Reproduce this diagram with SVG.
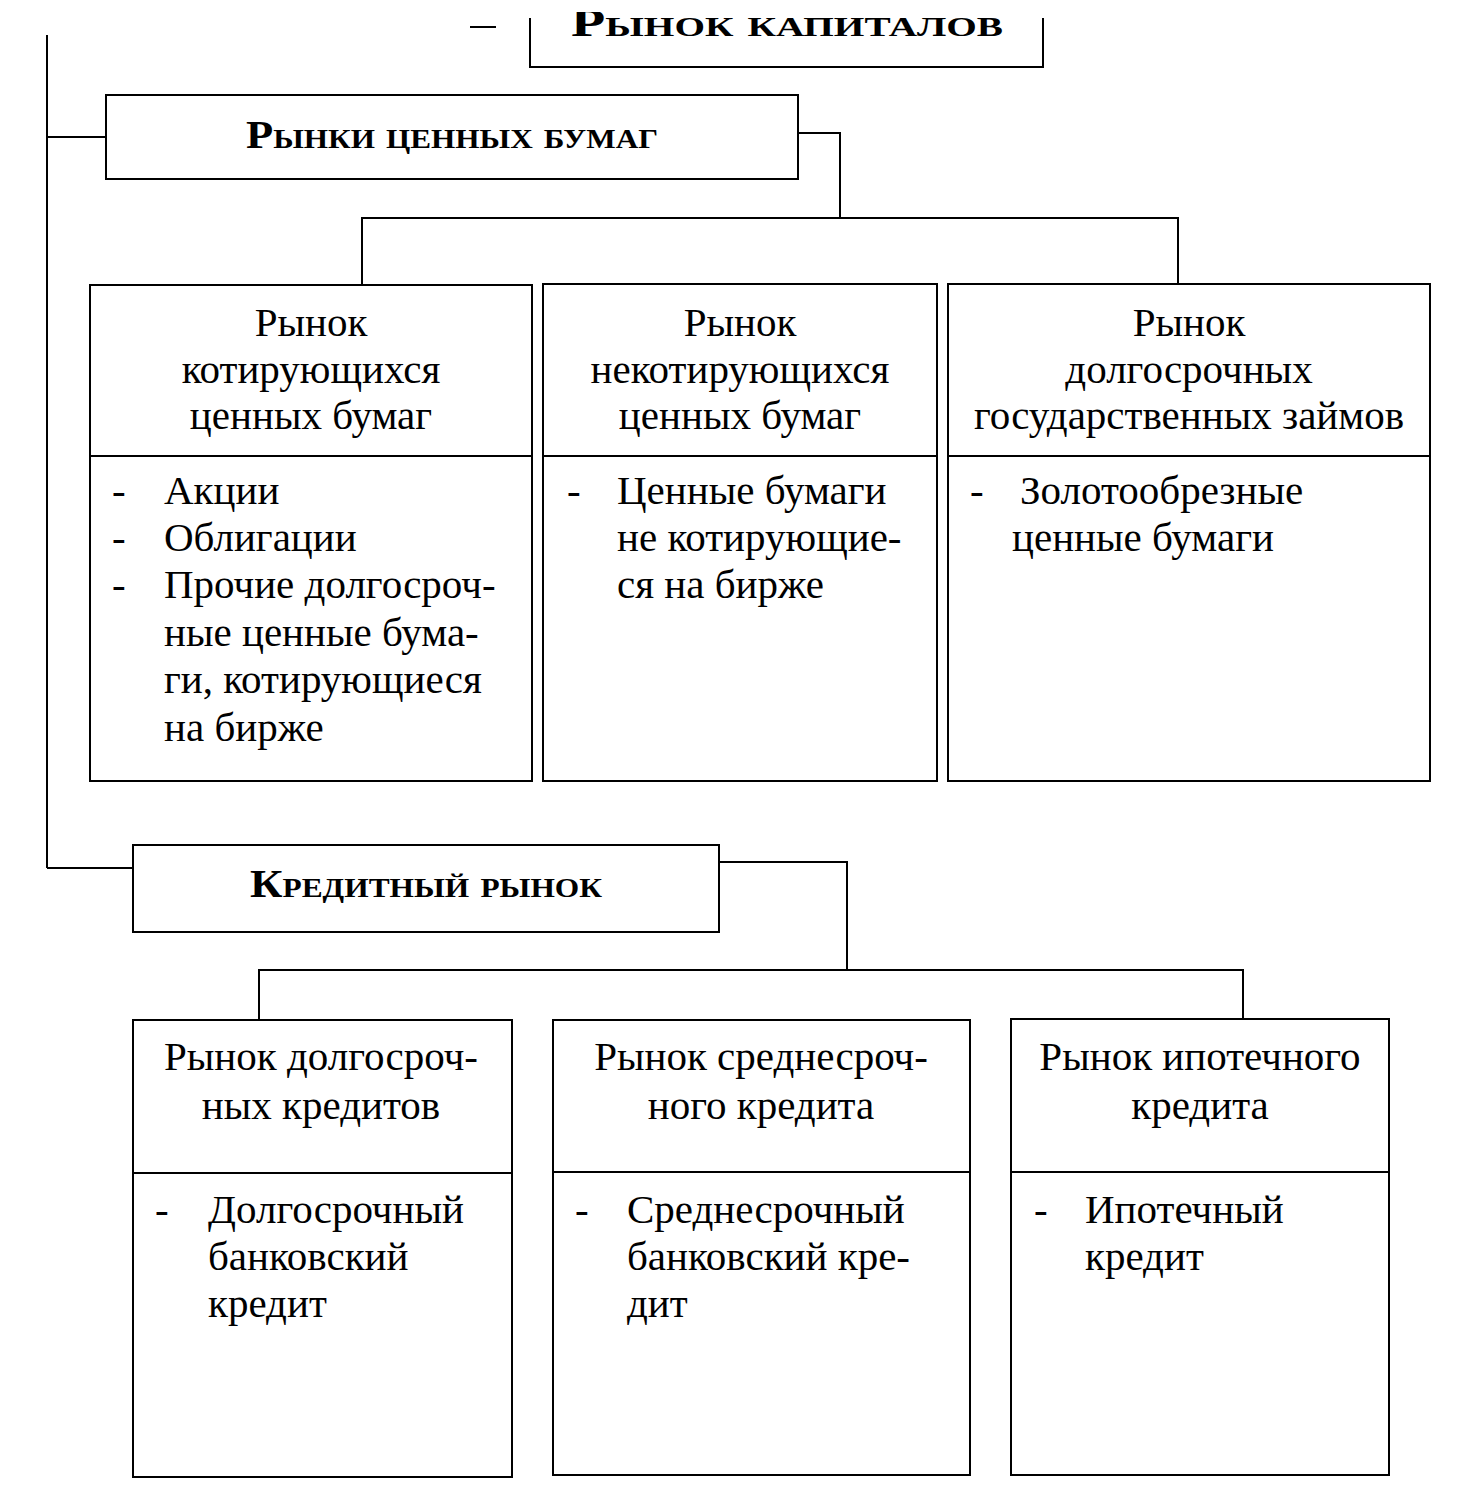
<svg xmlns="http://www.w3.org/2000/svg" width="1460" height="1512" viewBox="0 0 1460 1512">
<style>
.box{fill:none;stroke:#000;stroke-width:2}
.ln{fill:none;stroke:#000;stroke-width:2}
.t{font-family:"Liberation Serif","Times New Roman",serif;font-size:41px;fill:#000}
.c{text-anchor:middle}
.h{font-family:"Liberation Serif","Times New Roman",serif;font-weight:bold;font-variant:small-caps;font-size:40px;fill:#000;text-anchor:middle}
</style>
<rect width="1460" height="1512" fill="#fff"/>
<g id="connectors">
<path class="ln" d="M47,35 V868"/>
<path class="ln" d="M47,137 H106"/>
<path class="ln" d="M798,133 H840 V218"/>
<path class="ln" d="M362,285 V218 H1178 V284"/>
<path class="ln" d="M47,868 H133"/>
<path class="ln" d="M719,862 H847 V970"/>
<path class="ln" d="M259,1020 V970 H1243 V1019"/>
<path class="ln" d="M470,27 H496"/>
</g>
<g id="root">
<path class="box" d="M530,18 V67 H1043 V18"/>
<text class="h" x="787" y="36" font-size="52" textLength="432" lengthAdjust="spacingAndGlyphs">Рынок капиталов</text>
<rect x="0" y="0" width="1460" height="12" fill="#fff"/>
</g>
<g id="securities">
<rect class="box" x="106" y="95" width="692" height="84"/>
<text class="h" x="452" y="148" textLength="412" lengthAdjust="spacingAndGlyphs">Рынки ценных бумаг</text>
</g>
<g id="sec1">
<rect class="box" x="90" y="285" width="442" height="496"/>
<path class="ln" d="M90,456 H532"/>
<text class="t c" x="311" y="336">Рынок</text>
<text class="t c" x="311" y="383">котирующихся</text>
<text class="t c" x="311" y="429">ценных бумаг</text>
<text class="t" x="112" y="504">-</text>
<text class="t" x="164" y="504">Акции</text>
<text class="t" x="112" y="551">-</text>
<text class="t" x="164" y="551">Облигации</text>
<text class="t" x="112" y="598">-</text>
<text class="t" x="164" y="598">Прочие долгосроч-</text>
<text class="t" x="164" y="646">ные ценные бума-</text>
<text class="t" x="164" y="693">ги, котирующиеся</text>
<text class="t" x="164" y="741">на бирже</text>
</g>
<g id="sec2">
<rect class="box" x="543" y="284" width="394" height="497"/>
<path class="ln" d="M543,456 H937"/>
<text class="t c" x="740" y="336">Рынок</text>
<text class="t c" x="740" y="383">некотирующихся</text>
<text class="t c" x="740" y="429">ценных бумаг</text>
<text class="t" x="567" y="504">-</text>
<text class="t" x="617" y="504">Ценные бумаги</text>
<text class="t" x="617" y="551">не котирующие-</text>
<text class="t" x="617" y="598">ся на бирже</text>
</g>
<g id="sec3">
<rect class="box" x="948" y="284" width="482" height="497"/>
<path class="ln" d="M948,456 H1430"/>
<text class="t c" x="1189" y="336">Рынок</text>
<text class="t c" x="1189" y="383">долгосрочных</text>
<text class="t c" x="1189" y="429">государственных займов</text>
<text class="t" x="970" y="504">-</text>
<text class="t" x="1020" y="504">Золотообрезные</text>
<text class="t" x="1012" y="551">ценные бумаги</text>
</g>
<g id="credit">
<rect class="box" x="133" y="845" width="586" height="87"/>
<text class="h" x="426" y="897" textLength="352" lengthAdjust="spacingAndGlyphs">Кредитный рынок</text>
</g>
<g id="cr1">
<rect class="box" x="133" y="1020" width="379" height="457"/>
<path class="ln" d="M133,1173 H512"/>
<text class="t c" x="321" y="1070">Рынок долгосроч-</text>
<text class="t c" x="321" y="1119">ных кредитов</text>
<text class="t" x="155" y="1223">-</text>
<text class="t" x="208" y="1223">Долгосрочный</text>
<text class="t" x="208" y="1270">банковский</text>
<text class="t" x="208" y="1317">кредит</text>
</g>
<g id="cr2">
<rect class="box" x="553" y="1020" width="417" height="455"/>
<path class="ln" d="M553,1172 H970"/>
<text class="t c" x="761" y="1070">Рынок среднесроч-</text>
<text class="t c" x="761" y="1119">ного кредита</text>
<text class="t" x="575" y="1223">-</text>
<text class="t" x="627" y="1223">Среднесрочный</text>
<text class="t" x="627" y="1270">банковский кре-</text>
<text class="t" x="627" y="1317">дит</text>
</g>
<g id="cr3">
<rect class="box" x="1011" y="1019" width="378" height="456"/>
<path class="ln" d="M1011,1172 H1389"/>
<text class="t c" x="1200" y="1070">Рынок ипотечного</text>
<text class="t c" x="1200" y="1119">кредита</text>
<text class="t" x="1034" y="1223">-</text>
<text class="t" x="1085" y="1223">Ипотечный</text>
<text class="t" x="1085" y="1270">кредит</text>
</g>
</svg>
